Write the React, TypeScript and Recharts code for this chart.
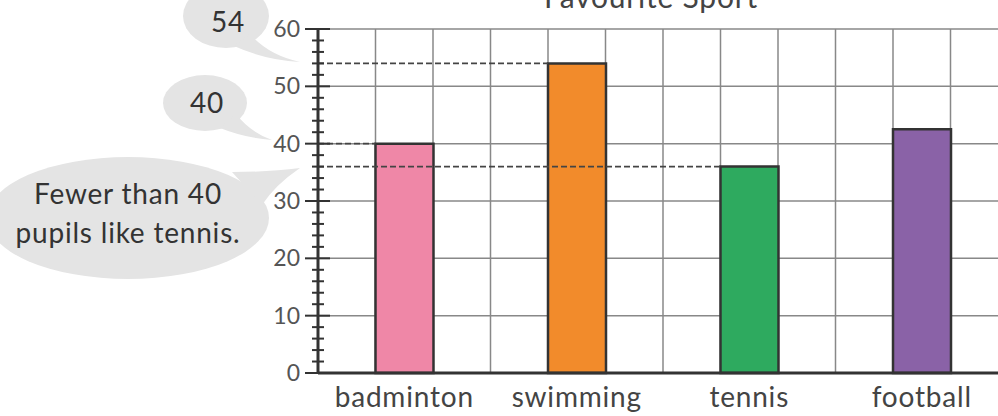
import { BarChart, Bar, XAxis, YAxis, CartesianGrid, ReferenceLine, Cell } from 'recharts'

const sports = ['badminton', 'swimming', 'tennis', 'football']
const pupils = [40, 54, 36, 42.5]
const barColors = ['#ef87a7', '#f28b2b', '#2eaa5f', '#8a62a7']
const yTicks = [0, 2, 4, 6, 8, 10, 12, 14, 16, 18, 20, 22, 24, 26, 28, 30, 32, 34, 36, 38, 40, 42, 44, 46, 48, 50, 52, 54, 56, 58, 60]
const yGridTicks = [0, 10, 20, 30, 40, 50, 60]
// each sport band is split into 3 grid columns, the bar fills the middle one
const COLS_PER_BAND = 3
// sports whose value gets a dashed guide back to the axis
const guideSports = ['badminton', 'swimming', 'tennis']

const data = sports.map((sport, i) => ({ sport, pupils: pupils[i] }))

const FONT = 'Lato, "Noto Sans", sans-serif'
const INK = '#333'

function YTick({ x, y, payload }: { x?: number; y?: number; payload?: { value: number } }) {
  if (x == null || y == null || !payload) return null
  const major = payload.value % 10 === 0
  return (
    <g>
      <line x1={x - (major ? 13 : 6)} x2={x + (major ? 12 : 6)} y1={y} y2={y} stroke={INK} strokeWidth={2} />
      {major && (
        <text x={x - 18} y={y} dy="0.35em" textAnchor="end" fontSize={23} fill="#555" fontFamily={FONT}>
          {payload.value}
        </text>
      )}
    </g>
  )
}

// dashed guide from the y axis to the left edge of a bar
function guideShape(index: number) {
  const frac = (index * COLS_PER_BAND + 1) / (sports.length * COLS_PER_BAND)
  return (p: { x1?: number; x2?: number; y1?: number }) => {
    if (p.x1 == null || p.x2 == null || p.y1 == null) return <g />
    return (
      <line
        x1={p.x1}
        x2={p.x1 + frac * (p.x2 - p.x1)}
        y1={p.y1}
        y2={p.y1}
        stroke="#444"
        strokeWidth={1.8}
        strokeDasharray="6 3"
      />
    )
  }
}

function Bubbles() {
  return (
    <svg width={998} height={416} style={{ position: 'absolute', left: 0, top: 0 }}>
      <g fill="#e4e4e4">
        <ellipse cx={226} cy={16} rx={43} ry={32} />
        <path d="M 250 34 Q 268 55 300 62 Q 265 60 234 46 Z" />
        <ellipse cx={205} cy={103} rx={42} ry={28} />
        <path d="M 236 114 Q 250 132 272 140 Q 245 138 220 128 Z" />
        <ellipse cx={128} cy={218} rx={141} ry={61} />
        <path d="M 232 172 Q 270 172 300 168 Q 275 185 262 205 Z" />
      </g>
      <g fill={INK} fontFamily={FONT} fontSize={28} letterSpacing={0.8} textAnchor="middle">
        <text x={228} y={32}>54</text>
        <text x={207} y={113}>40</text>
        <text x={128} y={204}>Fewer than 40</text>
        <text x={128} y={243}>pupils like tennis.</text>
      </g>
    </svg>
  )
}

export default function App() {
  const columns = sports.length * COLS_PER_BAND
  return (
    <div style={{ position: 'absolute', left: 0, top: 0, width: 998, height: 416, overflow: 'hidden', background: '#fff' }}>
      <Bubbles />
      <div style={{ position: 'absolute', left: 0, top: 0 }}>
        <BarChart width={1018} height={416} data={data} margin={{ top: 29, right: 10, left: 258, bottom: 0 }} barCategoryGap="33.333%">
          <text x={651} y={8} textAnchor="middle" fontSize={30} letterSpacing={0.8} fill="#444" fontFamily={FONT}>
            Favourite Sport
          </text>
          <YAxis yAxisId="grid" type="number" domain={[0, 60]} ticks={yGridTicks} allowDataOverflow hide width={0} />
          <CartesianGrid
            xAxisId="cat"
            yAxisId="grid"
            stroke="#888"
            strokeWidth={1.5}
            verticalCoordinatesGenerator={({ offset }: { offset: { left: number; width: number } }) =>
              Array.from({ length: columns + 1 }, (_, k) => offset.left + (k * offset.width) / columns)
            }
          />
          {guideSports.map((s) => {
            const i = sports.indexOf(s)
            return (
              <ReferenceLine key={s} xAxisId="cat" yAxisId="main" y={pupils[i]} shape={guideShape(i)} />
            )
          })}
          <XAxis
            xAxisId="cat"
            dataKey="sport"
            height={43}
            tickLine={false}
            tickSize={0}
            tickMargin={14}
            axisLine={{ stroke: INK, strokeWidth: 3 }}
            tick={{ fontSize: 28, fill: '#444', fontFamily: FONT, letterSpacing: 0.8 }}
          />
          <YAxis
            yAxisId="main"
            width={60}
            domain={[0, 60]}
            ticks={yTicks}
            interval={0}
            tickLine={false}
            tickSize={0}
            tickMargin={0}
            axisLine={{ stroke: INK, strokeWidth: 3 }}
            tick={<YTick />}
          />
          <Bar xAxisId="cat" yAxisId="main" dataKey="pupils" stroke={INK} strokeWidth={2.5} isAnimationActive={false}>
            {data.map((d, i) => (
              <Cell key={d.sport} fill={barColors[i]} />
            ))}
          </Bar>
        </BarChart>
      </div>
    </div>
  )
}
